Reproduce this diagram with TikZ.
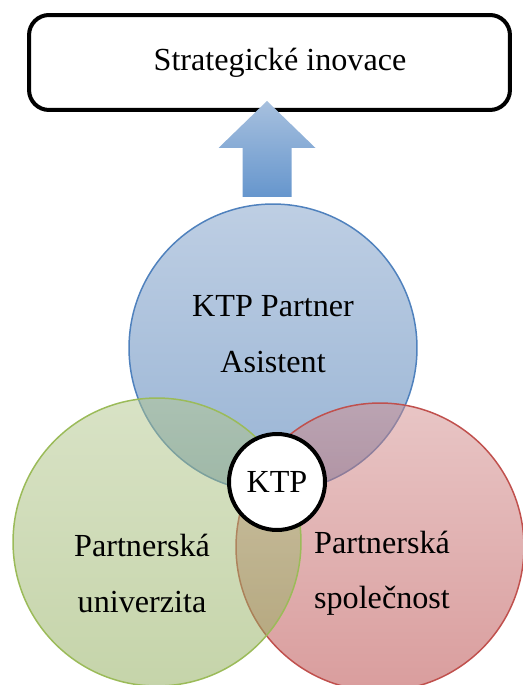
\documentclass[tikz,border=0pt]{standalone}
\usepackage{fontspec}
\setmainfont{Liberation Serif}
\usepackage{tikz}
\usetikzlibrary{positioning,calc}
\definecolor{BlueEdge}{RGB}{79,129,189}
\definecolor{BlueTop}{RGB}{125,158,200}
\definecolor{BlueBot}{RGB}{50,105,170}
\definecolor{GreenEdge}{RGB}{155,187,89}
\definecolor{GreenTop}{RGB}{178,198,140}
\definecolor{GreenBot}{RGB}{140,170,85}
\definecolor{RedEdge}{RGB}{192,80,77}
\definecolor{RedTop}{RGB}{210,140,140}
\definecolor{RedBot}{RGB}{180,60,60}
\definecolor{ArrTop}{RGB}{167,192,222}
\definecolor{ArrBot}{RGB}{102,150,205}
\tikzset{
  VC/.style={circle,inner sep=0pt,minimum size=5.76cm,
             line width=0.85pt,fill opacity=0.5},
  vB/.style={VC,draw=BlueEdge, top color=BlueTop, bottom color=BlueBot},
  vG/.style={VC,draw=GreenEdge,top color=GreenTop,bottom color=GreenBot},
  vR/.style={VC,draw=RedEdge,  top color=RedTop,  bottom color=RedBot},
  txt/.style={align=center,font=\fontsize{18.3}{31.5}\selectfont},
  goal/.style={txt,rectangle,rounded corners=0.4cm,draw,line width=0.08cm,
               fill=white,minimum width=9.62cm,minimum height=1.9cm},
  core/.style={txt,circle,draw,line width=0.08cm,fill=white,
               inner sep=0pt,minimum size=1.92cm},
  upArr/.style={top color=ArrTop,bottom color=ArrBot}
}
\begin{document}
\begin{tikzpicture}[x=0.02cm,y=-0.02cm]
  \useasboundingbox (0,0) rectangle (522,685);
  \node[goal] (strat) at (269.5,62.5) {\hspace*{0.42cm}Strategické inovace};
  \coordinate (tip) at (267,101);
  \path[upArr] (tip) -- ++(48.5,47) -- ++(-24,0) -- ++(0,49)
    -- ++(-49,0) -- ++(0,-49) -- ++(-24,0) -- cycle;
  % venn circles
  \node[vB] (kpa) at (273,348) {};
  \node[vR] (spol) at (380,547) {};
  \node[vG] (univ) at (157,542) {};
  \node[core] (ktp) at (277,482) {KTP};
  \node[txt] at ($(kpa)+(0,-14)$) {KTP Partner\\Asistent};
  \node[txt] at ($(univ)+(-15,31.5)$) {Partnerská\\univerzita};
  \node[txt] at ($(spol)+(2,26.5)$) {Partnerská\\společnost};
\end{tikzpicture}
\end{document}
